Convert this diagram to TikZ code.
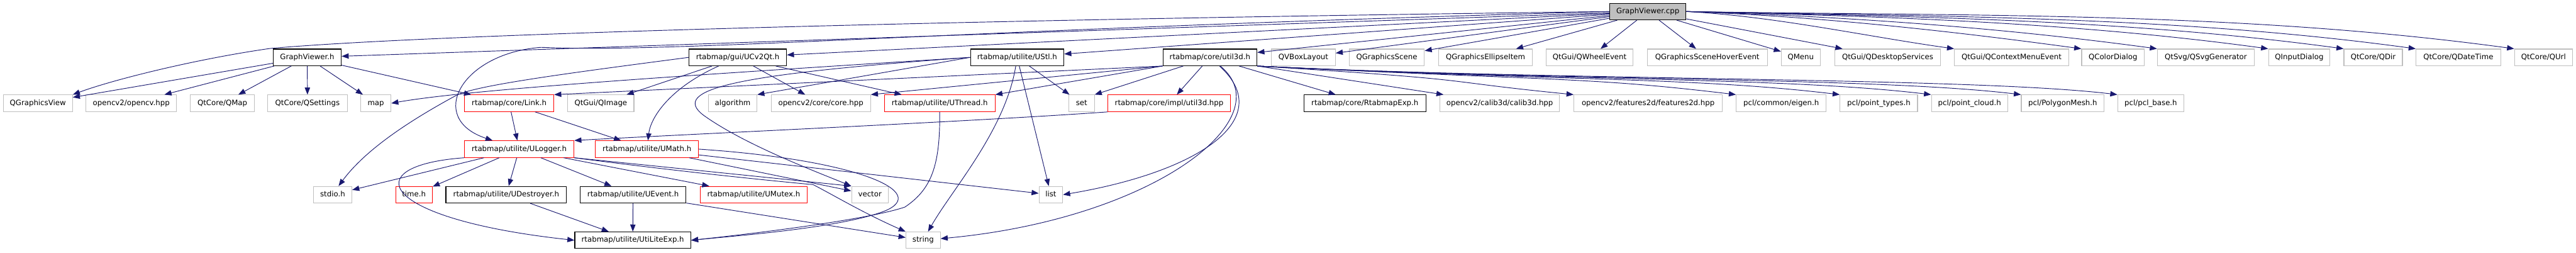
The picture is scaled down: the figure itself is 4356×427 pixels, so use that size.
\documentclass[tikz,border=0pt]{standalone}
\usepackage{fontspec}
\setmainfont{DejaVu Sans}
\usepackage{tikz}
\usetikzlibrary{arrows.meta}
\definecolor{edgeblue}{HTML}{191970}
\definecolor{sysgray}{HTML}{BFBFBF}

\begin{document}
\begin{tikzpicture}[
  x=1pt, y=-1pt,
  file/.style={draw, rectangle, fill=white, minimum height=28pt, inner sep=0pt,
               text height=9.5pt, text depth=3pt, line width=1.2pt,
               font=\fontsize{12.5}{15}\selectfont},
  docfile/.style={file, draw=black},
  redfile/.style={file, draw=red},
  sysfile/.style={file, draw=sysgray},
  arrow/.style={-{Triangle[length=12pt,width=9pt]}, draw=edgeblue, line width=1pt}
]
\useasboundingbox (0,0) rectangle (4356,427);

% Row 0: the source file (top)
\node[docfile, fill=sysgray, minimum width=129pt] (cpp) at (2786.5,19.5) {GraphViewer.cpp};

% Row 1: direct includes
\node[docfile, minimum width=115pt] (gvh) at (519.5,97) {GraphViewer.h};
\node[docfile, minimum width=165pt] (ucv) at (1247.5,97) {rtabmap/gui/UCv2Qt.h};
\node[docfile, minimum width=158pt] (ustl) at (1720,97) {rtabmap/utilite/UStl.h};
\node[docfile, minimum width=159pt] (util3d) at (2046,97) {rtabmap/core/util3d.h};
\node[sysfile, minimum width=108pt] (qvbox) at (2204,97) {QVBoxLayout};
\node[sysfile, minimum width=127pt] (qgscene) at (2345,97) {QGraphicsScene};
\node[sysfile, minimum width=158pt] (qgellipse) at (2512,97) {QGraphicsEllipseItem};
\node[sysfile, minimum width=147pt] (qwheel) at (2688,97) {QtGui/QWheelEvent};
\node[sysfile, minimum width=203pt] (qhover) at (2887,97) {QGraphicsSceneHoverEvent};
\node[sysfile, minimum width=66pt] (qmenu) at (3045,97) {QMenu};
\node[sysfile, minimum width=179pt] (qdesktop) at (3192,97) {QtGui/QDesktopServices};
\node[sysfile, minimum width=193pt] (qcontext) at (3401.5,97) {QtGui/QContextMenuEvent};
\node[sysfile, minimum width=106pt] (qcolor) at (3573,97) {QColorDialog};
\node[sysfile, minimum width=164pt] (qsvg) at (3730,97) {QtSvg/QSvgGenerator};
\node[sysfile, minimum width=104pt] (qinput) at (3888,97) {QInputDialog};
\node[sysfile, minimum width=99pt] (qdir) at (4013,97) {QtCore/QDir};
\node[sysfile, minimum width=143pt] (qdatetime) at (4157,97) {QtCore/QDateTime};
\node[sysfile, minimum width=98pt] (qurl) at (4301,97) {QtCore/QUrl};

% Row 2
\node[sysfile, minimum width=117pt] (qgview) at (64,174.5) {QGraphicsView};
\node[sysfile, minimum width=153pt] (opencv) at (222,174.5) {opencv2/opencv.hpp};
\node[sysfile, minimum width=108pt] (qmap) at (376,174.5) {QtCore/QMap};
\node[sysfile, minimum width=135pt] (qsettings) at (520,174.5) {QtCore/QSettings};
\node[sysfile, minimum width=51pt] (map) at (635.5,174.5) {map};
\node[redfile, minimum width=151pt] (link) at (861,174.5) {rtabmap/core/Link.h};
\node[sysfile, minimum width=112pt] (qimage) at (1016,174.5) {QtGui/QImage};
\node[sysfile, minimum width=82pt] (algorithm) at (1239,174.5) {algorithm};
\node[sysfile, minimum width=168pt] (corehpp) at (1388,174.5) {opencv2/core/core.hpp};
\node[redfile, minimum width=187pt] (uthread) at (1589,174.5) {rtabmap/utilite/UThread.h};
\node[sysfile, minimum width=43pt] (set) at (1829,174.5) {set};
\node[redfile, minimum width=207pt] (impl) at (1977,174.5) {rtabmap/core/impl/util3d.hpp};
\node[docfile, minimum width=206pt] (rtabexp) at (2308,174.5) {rtabmap/core/RtabmapExp.h};
\node[sysfile, minimum width=202pt] (calib3d) at (2536,174.5) {opencv2/calib3d/calib3d.hpp};
\node[sysfile, minimum width=251pt] (features2d) at (2787,174.5) {opencv2/features2d/features2d.hpp};
\node[sysfile, minimum width=152pt] (eigen) at (3012,174.5) {pcl/common/eigen.h};
\node[sysfile, minimum width=131pt] (ptypes) at (3177,174.5) {pcl/point\_types.h};
\node[sysfile, minimum width=129pt] (pcloud) at (3330.5,174.5) {pcl/point\_cloud.h};
\node[sysfile, minimum width=140pt] (polymesh) at (3488,174.5) {pcl/PolygonMesh.h};
\node[sysfile, minimum width=112pt] (pclbase) at (3637,174.5) {pcl/pcl\_base.h};

% Row 3
\node[redfile, minimum width=185pt] (ulogger) at (878,252) {rtabmap/utilite/ULogger.h};
\node[redfile, minimum width=174pt] (umath) at (1094,252) {rtabmap/utilite/UMath.h};

% Row 4
\node[sysfile, minimum width=65pt] (stdio) at (562.5,329) {stdio.h};
\node[redfile, minimum width=62pt] (time) at (700,329) {time.h};
\node[docfile, minimum width=204pt] (udestroyer) at (856,329) {rtabmap/utilite/UDestroyer.h};
\node[docfile, minimum width=179pt] (uevent) at (1070.5,329) {rtabmap/utilite/UEvent.h};
\node[redfile, minimum width=181pt] (umutex) at (1274.5,329) {rtabmap/utilite/UMutex.h};
\node[sysfile, minimum width=62pt] (vector) at (1471,329) {vector};
\node[sysfile, minimum width=40pt] (list) at (1777,329) {list};

% Row 5 (bottom)
\node[docfile, minimum width=196pt] (utilexp) at (1070,406) {rtabmap/utilite/UtiLiteExp.h};
\node[sysfile, minimum width=58pt] (string) at (1561,406) {string};

% GraphViewer.cpp includes
\draw[arrow] (cpp.west) .. controls (1500,35) and (700,60) .. (456,82)
             .. controls (330,100) and (190,135) .. (qgview.north east);
\draw[arrow] (cpp) -- (gvh);
\draw[arrow] (cpp) -- (ucv);
\draw[arrow] (cpp) -- (ustl);
\draw[arrow] (cpp) -- (util3d);
\draw[arrow] (cpp.west) .. controls (1600,50) and (1150,90) .. (915,80)
             .. controls (780,90) and (720,200) .. ([xshift=-45pt]ulogger.north);
\draw[arrow] (cpp) -- (qvbox);
\draw[arrow] (cpp) -- (qgscene);
\draw[arrow] (cpp) -- (qgellipse);
\draw[arrow] (cpp) -- (qwheel);
\draw[arrow] (cpp) -- (qhover);
\draw[arrow] (cpp) -- (qmenu);
\draw[arrow] (cpp) -- (qdesktop);
\draw[arrow] (cpp.east) .. controls +(150,8) and +(-150,-21) .. (qcontext.north west);
\draw[arrow] (cpp.east) .. controls +(220,8) and +(-220,-30) .. (qcolor.north west);
\draw[arrow] (cpp.east) .. controls +(265,8) and +(-265,-36) .. (qsvg.north west);
\draw[arrow] (cpp.east) .. controls +(330,8) and +(-330,-45) .. (qinput.north west);
\draw[arrow] (cpp.east) .. controls +(370,8) and +(-370,-50) .. (qdir.north west);
\draw[arrow] (cpp.east) .. controls +(410,8) and +(-410,-56) .. (qdatetime.north west);
\draw[arrow] (cpp.east) .. controls +(470,8) and +(-470,-64) .. (qurl.north west);

% GraphViewer.h includes
\draw[arrow] (gvh) -- (qgview);
\draw[arrow] (gvh) -- (opencv);
\draw[arrow] (gvh) -- (qmap);
\draw[arrow] (gvh) -- (qsettings);
\draw[arrow] (gvh) -- (map);
\draw[arrow] (gvh) -- (link);

% UCv2Qt.h includes
\draw[arrow] (ucv) -- (qimage);
\draw[arrow] (ucv) -- (corehpp);
\draw[arrow] (ucv) -- (uthread);
\draw[arrow] (ucv) .. controls (1130,150) and (1100,200) .. (umath);
\draw[arrow] (ucv.west) .. controls (950,125) and (800,145) .. (770,162)
             .. controls (700,200) and (620,250) .. ([xshift=10pt]stdio.north);

% UStl.h includes
\draw[arrow] (ustl.west) .. controls (1200,125) and (800,150) .. (map.east);
\draw[arrow] (ustl.west) -- (algorithm.north east);
\draw[arrow] (ustl) -- (set);
\draw[arrow] (ustl) -- (list);
\draw[arrow] (ustl) .. controls (1700,220) and (1610,320) .. (string);
\draw[arrow] (ustl.west) .. controls (1250,125) and (1130,150) .. (1190,195)
             .. controls (1260,245) and (1380,290) .. (vector.north west);

% util3d.h includes
\draw[arrow] (util3d.south west) -- (link.north east);
\draw[arrow] (util3d.south west) -- (corehpp.north east);
\draw[arrow] (util3d.south west) -- (uthread.north east);
\draw[arrow] (util3d) -- (set.north east);
\draw[arrow] (util3d) -- (impl);
\draw[arrow] (util3d) .. controls (2160,200) and (2030,290) .. (list.east);
\draw[arrow] (util3d) .. controls (2170,200) and (1950,370) .. (string);
\draw[arrow] (util3d) -- (rtabexp);
\draw[arrow] (util3d.south east) -- (calib3d);
\draw[arrow] (util3d.south east) .. controls +(400,25) and +(-250,-25) .. (features2d.north west);
\draw[arrow] (util3d.south east) .. controls +(500,25) and +(-250,-30) .. (eigen.north west);
\draw[arrow] (util3d.south east) .. controls +(500,25) and +(-250,-30) .. (ptypes.north west);
\draw[arrow] (util3d.south east) .. controls +(500,25) and +(-250,-30) .. (pcloud.north west);
\draw[arrow] (util3d.south east) .. controls +(500,25) and +(-250,-30) .. (polymesh.north west);
\draw[arrow] (util3d.south east) .. controls +(500,25) and +(-250,-30) .. (pclbase.north west);

% impl/util3d.hpp and Link.h includes
\draw[arrow] (impl.south west) .. controls (1650,205) and (1200,225) .. (ulogger.north east);
\draw[arrow] (link) -- (ulogger);
\draw[arrow] (link) -- (umath);

% ULogger.h includes
\draw[arrow] (ulogger) -- (stdio);
\draw[arrow] (ulogger) -- (time);
\draw[arrow] (ulogger) -- (udestroyer);
\draw[arrow] (ulogger) -- (uevent);
\draw[arrow] (ulogger) -- (umutex);
\draw[arrow] (ulogger.south east) -- (vector.north west);
\draw[arrow] (ulogger.south east) .. controls (1150,290) and (1300,305) .. (1375,312)
             .. controls (1410,330) and (1460,360) .. (string.north west);
\draw[arrow] (ulogger.south west) .. controls (600,280) and (640,370) .. (utilexp.west);

% UMath.h includes
\draw[arrow] (umath) -- (vector);
\draw[arrow] (umath) -- (list);
\draw[arrow] (umath.east) .. controls (1450,270) and (1575,325) .. (1495,357)
             .. controls (1420,385) and (1250,398) .. (utilexp.east);

% remaining includes
\draw[arrow] (uthread.south) .. controls (1590,280) and (1575,320) .. (1530,350)
             .. controls (1470,370) and (1300,392) .. (utilexp.east);
\draw[arrow] (udestroyer) -- (utilexp);
\draw[arrow] (uevent) -- (utilexp);
\draw[arrow] (uevent) -- (string);

\end{tikzpicture}
\end{document}
